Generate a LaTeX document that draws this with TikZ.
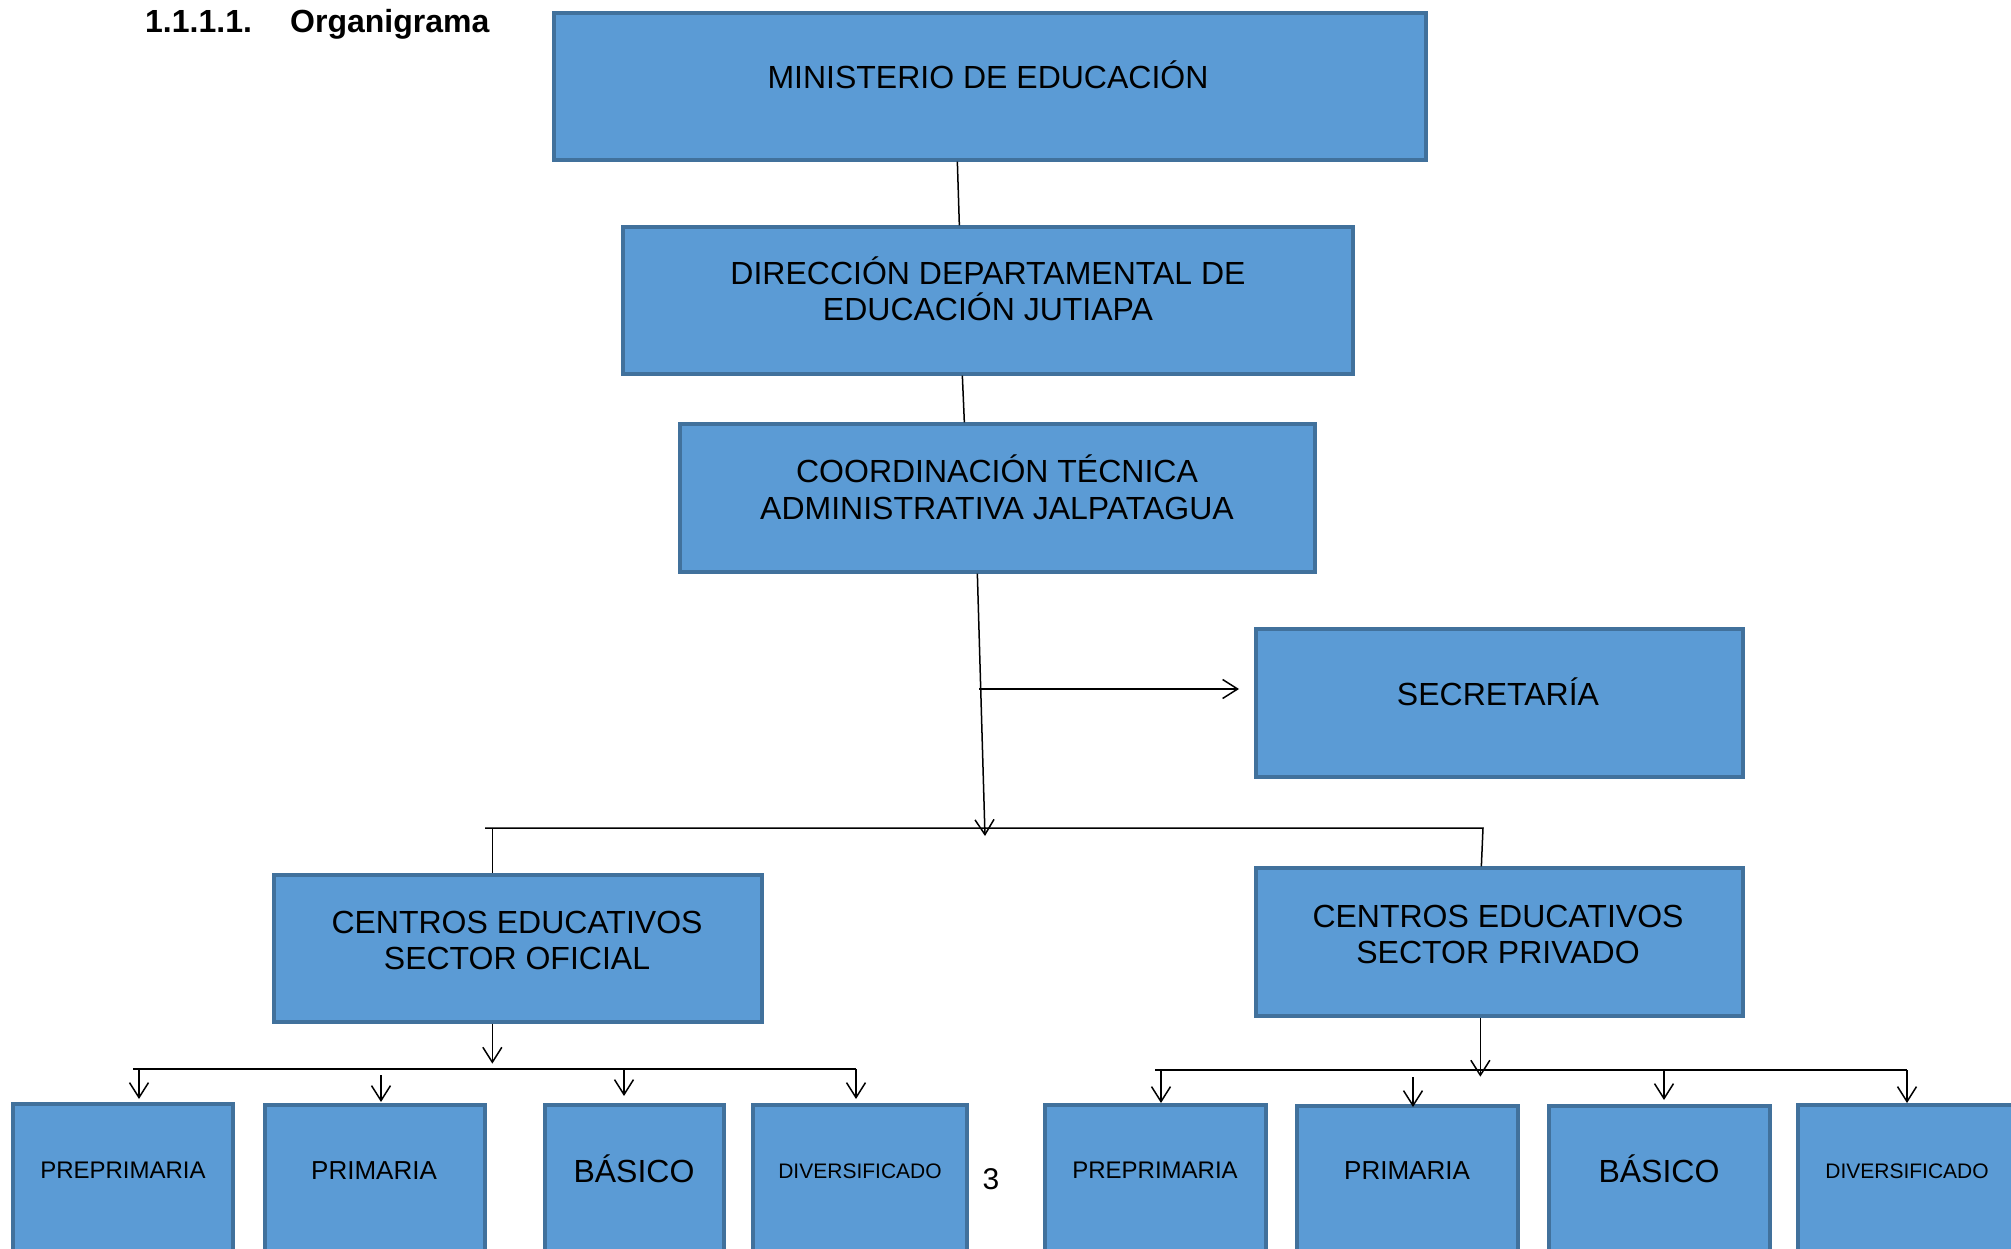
\documentclass[tikz,border=0pt]{standalone}
\usepackage{fontspec}
\setmainfont{Liberation Sans}
\usetikzlibrary{arrows.meta}
\definecolor{boxfill}{HTML}{5B9BD5}
\definecolor{boxline}{HTML}{41719C}
\begin{document}
\begin{tikzpicture}[x=1pt,y=-1pt,
  box/.style={draw=boxline, fill=boxfill, line width=3.3pt, inner sep=0pt},
  txt/.style={anchor=base, inner sep=0pt, font=\fontsize{32}{37}\selectfont},
  conn/.style={line width=1.5pt, draw=black},
  arr/.style={conn, -{Straight Barb[length=15pt,width=19pt]}}]
\clip (0,0) rectangle (2011,1249);
\useasboundingbox (0,0) rectangle (2011,1249);

% title
\node[anchor=base west, inner sep=0pt, font=\bfseries\fontsize{32}{37}\selectfont] (tnum) at (145,33) {1.1.1.1.};
\node[anchor=base west, inner sep=0pt, font=\bfseries\fontsize{32}{37}\selectfont] (tname) at (290,33) {Organigrama};

% main boxes
\node[box, minimum width=872, minimum height=147] (min) at (990,86.5) {};
\node[txt] (mint) at (988,88.5) {MINISTERIO DE EDUCACIÓN};

\node[box, minimum width=730, minimum height=147] (dir) at (988,300.5) {};
\node[txt] (dirt1) at (988,284.5) {DIRECCIÓN DEPARTAMENTAL DE};
\node[txt] (dirt2) at (988,320.5) {EDUCACIÓN JUTIAPA};

\node[box, minimum width=635, minimum height=148] (coord) at (997.5,498) {};
\node[txt] (coordt1) at (997,482.5) {COORDINACIÓN TÉCNICA};
\node[txt] (coordt2) at (997,519.5) {ADMINISTRATIVA JALPATAGUA};

\node[box, minimum width=487, minimum height=148] (sec) at (1499.5,703) {};
\node[txt] (sect) at (1498,705.5) {SECRETARÍA};

\node[box, minimum width=488, minimum height=147] (ofi) at (518,948.5) {};
\node[txt] (ofit1) at (517,933.5) {CENTROS EDUCATIVOS};
\node[txt] (ofit2) at (517,969.5) {SECTOR OFICIAL};

\node[box, minimum width=487, minimum height=148] (pri) at (1499.5,942) {};
\node[txt] (prit1) at (1498,927.5) {CENTROS EDUCATIVOS};
\node[txt] (prit2) at (1498,963.5) {SECTOR PRIVADO};

% bottom boxes, left
\node[box, minimum width=220, minimum height=166] (lp) at (123,1187) {};
\node[txt, font=\fontsize{24}{28}\selectfont] (lpt) at (123,1178.5) {PREPRIMARIA};
\node[box, minimum width=220, minimum height=165] (lpr) at (375,1187.5) {};
\node[txt, font=\fontsize{26}{30}\selectfont] (lprt) at (374,1179) {PRIMARIA};
\node[box, minimum width=179, minimum height=165] (lb) at (634.5,1187.5) {};
\node[txt, font=\fontsize{32}{37}\selectfont] (lbt) at (634,1182) {BÁSICO};
\node[box, minimum width=214, minimum height=165] (ld) at (860,1187.5) {};
\node[txt, font=\fontsize{21}{25}\selectfont] (ldt) at (860,1178) {DIVERSIFICADO};
\node[txt, font=\fontsize{30}{35}\selectfont] (pnum) at (991,1189) {3};

% bottom boxes, right
\node[box, minimum width=221, minimum height=165] (rp) at (1155.5,1187.5) {};
\node[txt, font=\fontsize{24}{28}\selectfont] (rpt) at (1155,1178.5) {PREPRIMARIA};
\node[box, minimum width=221, minimum height=164] (rpr) at (1407.5,1188) {};
\node[txt, font=\fontsize{26}{30}\selectfont] (rprt) at (1407,1179) {PRIMARIA};
\node[box, minimum width=221, minimum height=164] (rb) at (1659.5,1188) {};
\node[txt, font=\fontsize{32}{37}\selectfont] (rbt) at (1659,1182) {BÁSICO};
\node[box, minimum width=218, minimum height=165] (rd) at (1907,1187.5) {};
\node[txt, font=\fontsize{21}{25}\selectfont] (rdt) at (1907,1178) {DIVERSIFICADO};

% coordinates
\coordinate (busL) at (485,828);
\coordinate (busR) at (1483,828);
\coordinate (busM) at (985,836);
\coordinate (secS) at (979,689);
\coordinate (secE) at (1239,689);
\coordinate (lbusL) at (133,1069);
\coordinate (lbusR) at (856,1069);
\coordinate (lprS) at (381,1075);
\coordinate (rbusL) at (1155,1070);
\coordinate (rbusR) at (1907,1070);
\coordinate (rprS) at (1413,1077);

% top connectors
\draw[conn] ([xshift=405pt]min.south west) -- ([xshift=338pt]dir.north west);
\draw[conn] ([xshift=341pt]dir.south west) -- ([xshift=286pt]coord.north west);
\draw[arr] ([xshift=299pt]coord.south west) -- (busM);
\draw[arr] (secS) -- (secE);
\draw[conn] (busL) -- (busR) -- ([xshift=227pt]pri.north west);
\draw[conn] (busL -| ofi.north west) ++(220,0) -- ([xshift=220pt]ofi.north west);

% left lower connectors
\draw[arr] ([xshift=220pt]ofi.south west) -- ++(0,40);
\draw[conn] (lbusL) -- (lbusR);
\draw[arr] (lbusL) ++(6,0) -- ++(0,30);
\draw[arr] (lprS) -- ++(0,27);
\draw[arr] (lbusL) ++(491,0) -- ++(0,27);
\draw[arr] (lbusR) -- ++(0,30);

% right lower connectors
\draw[arr] ([xshift=226pt]pri.south west) -- ++(0,59);
\draw[conn] (rbusL) -- (rbusR);
\draw[arr] (rbusL) ++(6,0) -- ++(0,33);
\draw[arr] (rprS) -- ++(0,30);
\draw[arr] (rbusL) ++(509,0) -- ++(0,30);
\draw[arr] (rbusR) -- ++(0,33);
\end{tikzpicture}
\end{document}
